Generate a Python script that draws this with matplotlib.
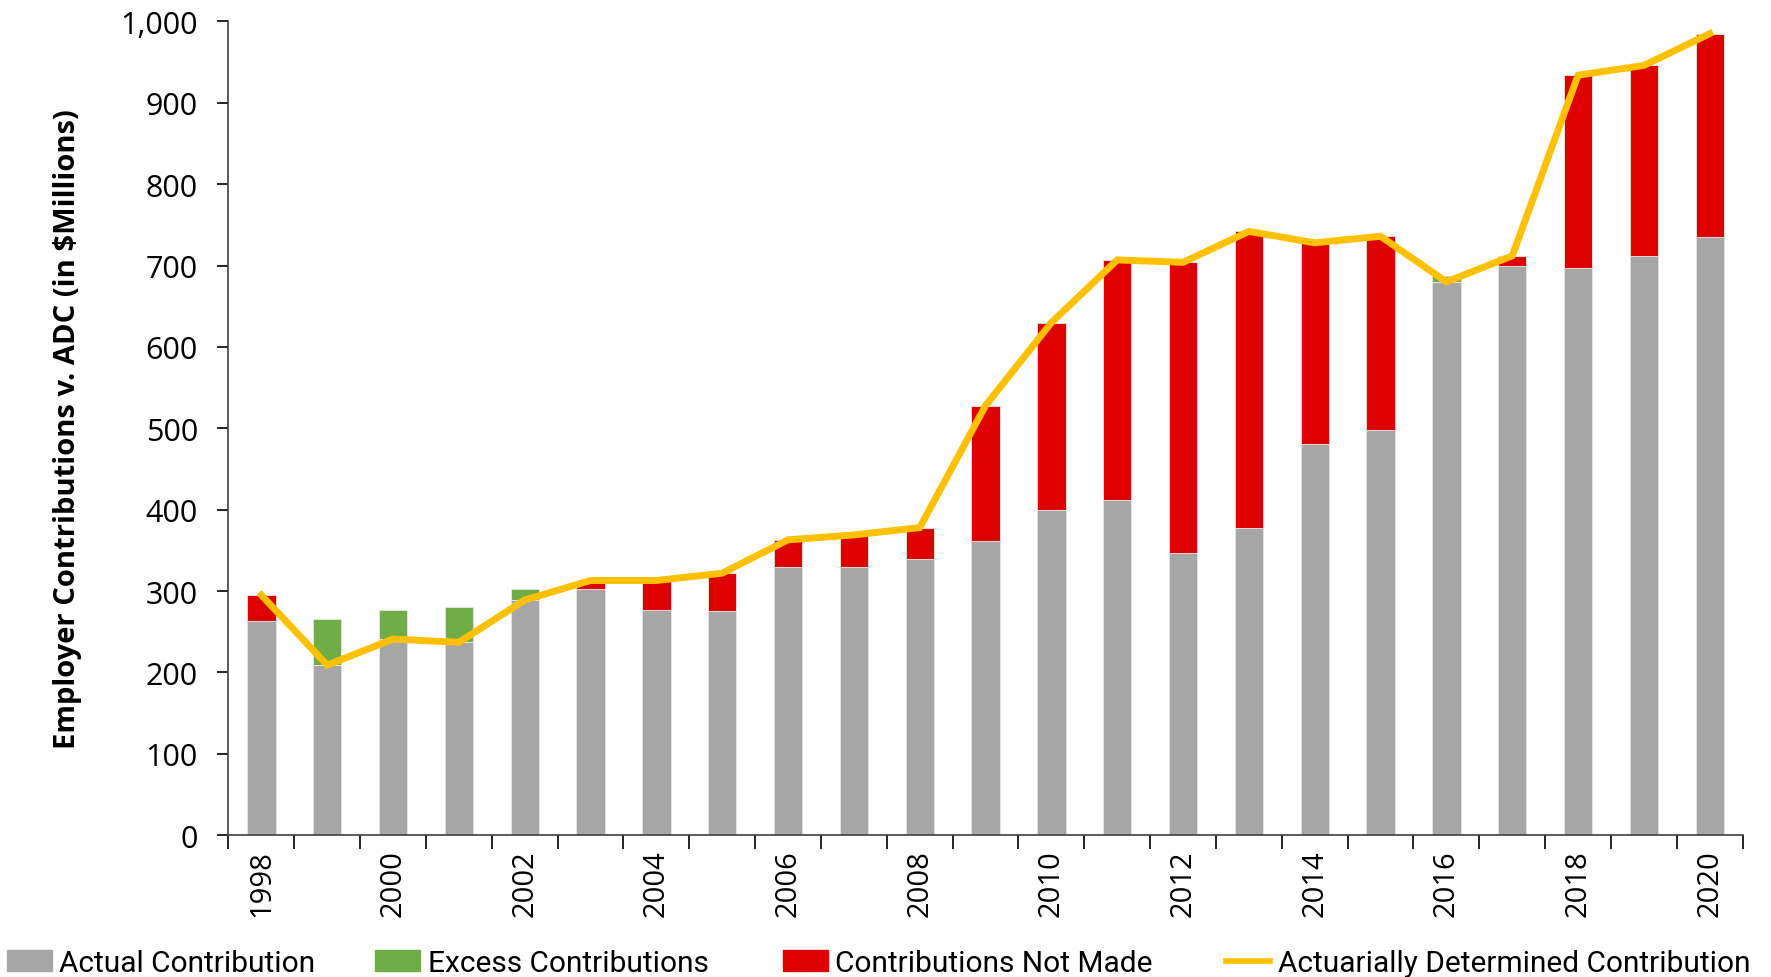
# Employer contributions vs actuarially determined contribution (ADC)

import numpy as np
import matplotlib.pyplot as plt
from matplotlib.patches import Patch
from matplotlib.lines import Line2D

YEARS = list(range(1998, 2021))
ACTUAL = [263, 266, 277, 280, 302, 302, 277, 275, 329, 329, 340, 361,
          400, 412, 347, 377, 481, 498, 687, 699, 697, 712, 735]
ADC = [295, 209, 241, 237, 289, 313, 313, 322, 363, 369, 378, 528,
       630, 707, 704, 742, 728, 736, 680, 712, 934, 946, 985]
TICK_LABELS = [str(y) if y % 2 == 0 else '' for y in YEARS]
LEGEND_LABELS = ['Actual Contribution', 'Excess Contributions',
                 'Contributions Not Made', 'Actuarially Determined Contribution']

GRAY = '#A6A6A6'
GREEN = '#70AD47'
RED = '#DC0000'
GOLD = '#FFC000'


def create():
    plt.rcParams['font.family'] = ['Open Sans', 'DejaVu Sans']

    actual = np.array(ACTUAL, dtype=float)
    adc = np.array(ADC, dtype=float)
    base = np.minimum(actual, adc)
    excess = np.clip(actual - adc, 0, None)
    shortfall = np.clip(adc - actual, 0, None)
    x = np.arange(len(YEARS))

    fig = plt.figure(figsize=(17.71, 9.78), dpi=100)
    ax = fig.add_axes([0.129, 0.145, 0.855, 0.832])

    w = 0.43
    ax.bar(x, base, w, color=GRAY, edgecolor='#E6E6E6', linewidth=0.6)
    ax.bar(x, excess, w, bottom=base, color=GREEN, edgecolor='#E6E6E6', linewidth=0.6)
    ax.bar(x, shortfall, w, bottom=base, color=RED, edgecolor='#E6E6E6', linewidth=0.6)
    ax.plot(x, adc, color=GOLD, linewidth=5, solid_joinstyle='miter')

    ax.set_xlim(-0.5, len(YEARS) - 0.5)
    ax.set_ylim(0, 1000)
    ax.set_yticks(range(0, 1001, 100))
    ax.set_yticklabels([f'{v:,}' for v in range(0, 1001, 100)], fontsize=22)
    ax.tick_params(axis='y', direction='out', length=8, width=1.2, pad=14)

    # ticks between categories, labels under the bars
    ax.set_xticks(np.arange(-0.5, len(YEARS), 1.0))
    ax.set_xticklabels([])
    ax.tick_params(axis='x', direction='out', length=10, width=1.2)
    ax.set_xticks(x, minor=True)
    ax.set_xticklabels(TICK_LABELS, minor=True, rotation=90, fontsize=21)
    ax.tick_params(axis='x', which='minor', length=0, pad=10)

    for s in ['top', 'right']:
        ax.spines[s].set_visible(False)
    for s in ['left', 'bottom']:
        ax.spines[s].set_linewidth(1.2)
        ax.spines[s].set_color('#404040')

    ax.set_ylabel('Employer Contributions v. ADC (in $Millions)', fontsize=21,
                  fontweight='bold', labelpad=28)

    # legend entries spread along the bottom edge, one legend each
    handles = [Patch(color=GRAY), Patch(color=GREEN), Patch(color=RED),
               Line2D([0], [0], color=GOLD, linewidth=4)]
    xpos = [0.004, 0.212, 0.442, 0.692]
    for h, lab, xp in zip(handles, LEGEND_LABELS, xpos):
        fig.legend([h], [lab], loc='lower left', frameon=False,
                   bbox_to_anchor=(xp, 0.0), borderaxespad=0, borderpad=0,
                   handlelength=1.5, handletextpad=0.25,
                   prop={'family': ['Roboto', 'DejaVu Sans'], 'size': 21.5})

    fig.savefig('out.png', dpi=100)


if __name__ == "__main__":
    create()
